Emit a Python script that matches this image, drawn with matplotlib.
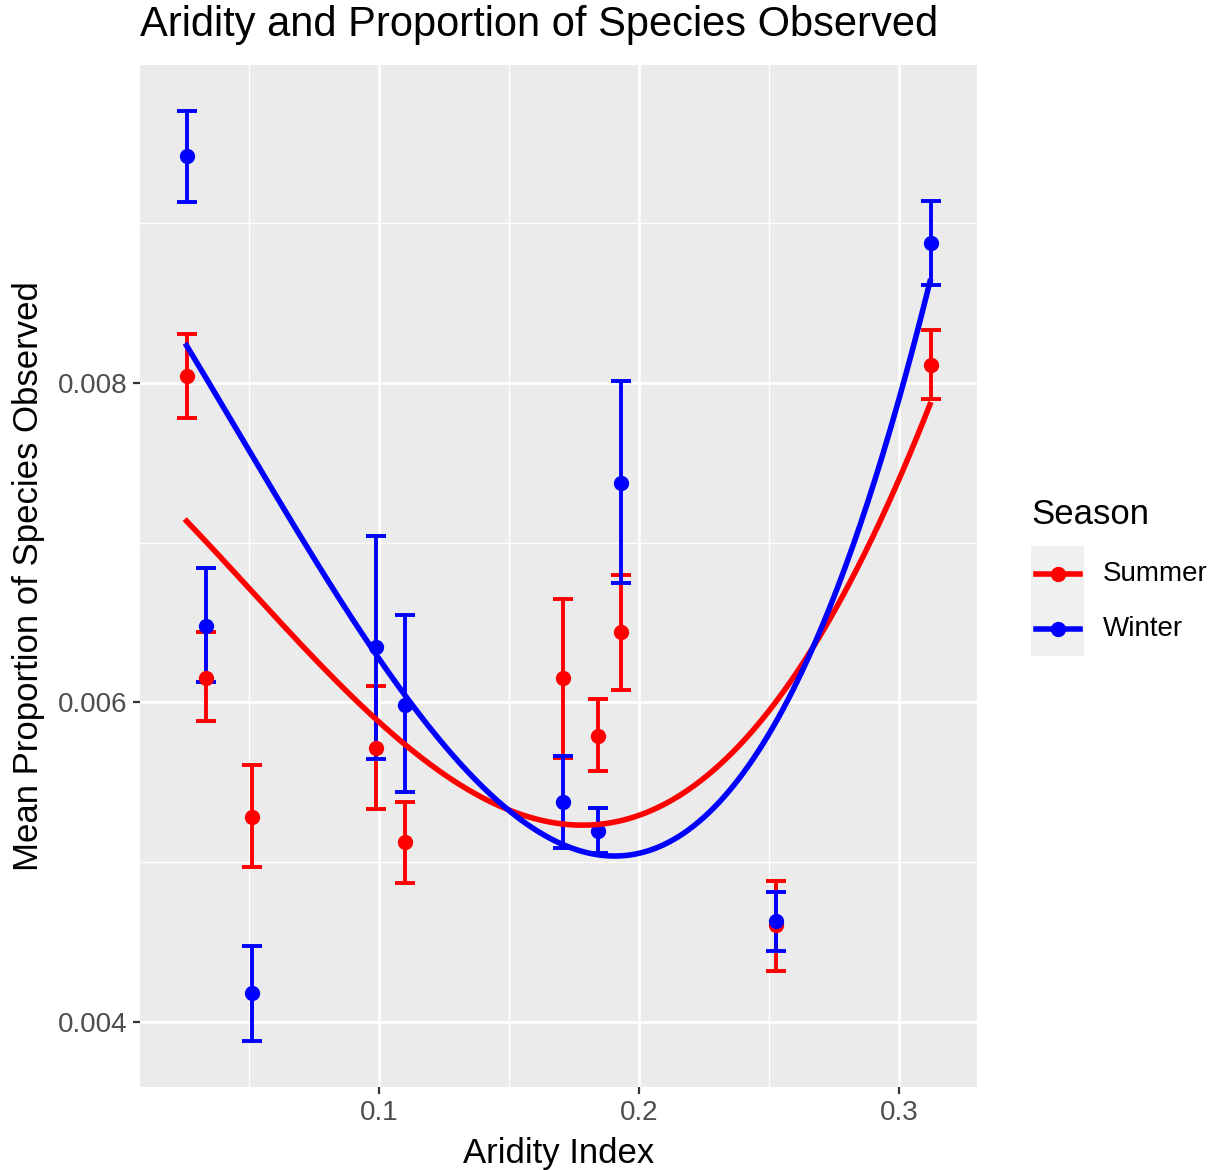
import matplotlib
matplotlib.use("Agg")
import matplotlib.pyplot as plt
from matplotlib.lines import Line2D
from matplotlib.patches import Rectangle
import numpy as np

# aridity index of each site
aridity = [0.0262, 0.0335, 0.0512, 0.0989, 0.1100, 0.1708, 0.1842, 0.1931, 0.2527, 0.3123]

summer_mean = [0.008044, 0.006156, 0.005286, 0.005718, 0.005124, 0.006150, 0.005793, 0.006441, 0.004607, 0.008113]
summer_lo   = [0.007780, 0.005881, 0.004967, 0.005336, 0.004873, 0.005650, 0.005574, 0.006081, 0.004320, 0.007900]
summer_hi   = [0.008307, 0.006438, 0.005606, 0.006100, 0.005380, 0.006650, 0.006019, 0.006798, 0.004883, 0.008332]

winter_mean = [0.009421, 0.006476, 0.004182, 0.006344, 0.005987, 0.005377, 0.005196, 0.007374, 0.004632, 0.008876]
winter_lo   = [0.009133, 0.006125, 0.003881, 0.005643, 0.005437, 0.005089, 0.005058, 0.006748, 0.004445, 0.008613]
winter_hi   = [0.009703, 0.006839, 0.004476, 0.007039, 0.006545, 0.005665, 0.005340, 0.008013, 0.004814, 0.009139]

trend_x      = [0.0260, 0.0500, 0.1000, 0.1500, 0.1773, 0.1927, 0.2000, 0.2285, 0.2500, 0.2723, 0.2823, 0.3000, 0.3119]
summer_trend = [0.007130, 0.006725, 0.005872, 0.005323, 0.005243, 0.005250, 0.005305, 0.005527, 0.006000, 0.006510, 0.006773, 0.007343, 0.007900]
winter_trend = [0.008233, 0.007578, 0.006279, 0.005315, 0.005070, 0.005033, 0.005045, 0.005402, 0.005780, 0.006510, 0.006942, 0.008013, 0.008582]

seasons = ["Summer", "Winter"]
colors = {"Summer": "#FF0000", "Winter": "#0000FF"}

W, H = 1219, 1170
fig = plt.figure(figsize=(W / 100, H / 100), dpi=100)
plt.rcParams['font.family'] = ['Liberation Sans', 'DejaVu Sans']

def fx(px):
    return px / W

def fy(py):
    return 1 - py / H

ax = fig.add_axes([fx(140), fy(1087), fx(977) - fx(140), fy(65) - fy(1087)])
ax.set_facecolor("#EBEBEB")
for s in ax.spines.values():
    s.set_visible(False)

ax.set_xlim(0.00808, 0.33)
ax.set_ylim(0.003593, 0.00999)
ax.set_xticks([0.1, 0.2, 0.3])
ax.set_xticklabels(["0.1", "0.2", "0.3"])
ax.set_yticks([0.004, 0.006, 0.008])
ax.set_yticklabels(["0.004", "0.006", "0.008"])
ax.set_xticks([0.05, 0.15, 0.25], minor=True)
ax.set_yticks([0.005, 0.007, 0.009], minor=True)
ax.grid(which="major", color="white", linewidth=1.9)
ax.grid(which="minor", color="white", linewidth=1.0)
ax.set_axisbelow(True)
ax.tick_params(which="major", length=5, width=1.6, color="#333333",
               labelsize=20, labelcolor="#4D4D4D", pad=4)
ax.tick_params(which="minor", length=0)

x = np.array(aridity)
tx = np.array(trend_x)
xs = np.linspace(tx.min(), tx.max(), 300)
data = {
    "Summer": (summer_mean, summer_lo, summer_hi, summer_trend),
    "Winter": (winter_mean, winter_lo, winter_hi, winter_trend),
}
for season in seasons:
    m, lo, hi, tr = (np.array(v) for v in data[season])
    c = colors[season]
    ax.errorbar(x, m, yerr=[m - lo, hi - m], fmt="o", color=c, ecolor=c,
                elinewidth=2.8, capsize=7, capthick=2.8, markersize=10, zorder=3)
    coef = np.polyfit(tx, tr, 4)
    ax.plot(xs, np.polyval(coef, xs), color=c, linewidth=4, zorder=4)

ax.set_xlabel("Aridity Index", fontsize=25, labelpad=8)
ax.set_ylabel("Mean Proportion of Species Observed", fontsize=25, labelpad=9)
fig.text(fx(140), fy(25), "Aridity and Proportion of Species Observed",
         fontsize=30, ha="left", va="center")

# legend
fig.text(fx(1031), fy(514), "Season", fontsize=25, ha="left", va="center")
fig.add_artist(Rectangle((fx(1031), fy(656)), fx(1084) - fx(1031), fy(546) - fy(656),
                         transform=fig.transFigure, facecolor="#F0F0F0", edgecolor="none"))
for season, py in zip(seasons, [574, 629]):
    c = colors[season]
    fig.add_artist(Line2D([fx(1036), fx(1080)], [fy(py), fy(py)], transform=fig.transFigure,
                          color=c, linewidth=4))
    fig.add_artist(Line2D([fx(1058)], [fy(py)], transform=fig.transFigure,
                          color=c, marker="o", markersize=10))
    fig.text(fx(1103), fy(py), season, fontsize=20, ha="left", va="center")

fig.savefig("out.png", dpi=100)
